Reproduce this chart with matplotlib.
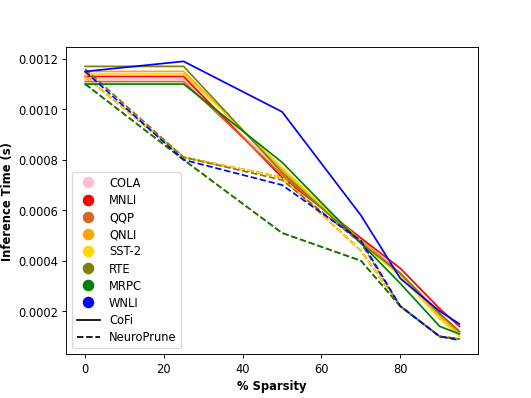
import matplotlib.pyplot as plt
from matplotlib.lines import Line2D

sparsity = [0, 25, 50, 70, 80, 90, 95]
datasets = ["COLA", "MNLI", "QQP", "QNLI", "SST-2", "RTE", "MRPC", "WNLI"]
colors = ["pink", "red", "chocolate", "orange", "gold", "olive", "green", "blue"]

cofi = {
    "COLA":  [0.00112, 0.00112, 0.00075, 0.00049, 0.00035, 0.00019, 0.00012],
    "MNLI":  [0.00113, 0.00113, 0.00073, 0.00049, 0.00037, 0.00021, 0.00014],
    "QQP":   [0.00111, 0.00111, 0.00074, 0.00048, 0.00035, 0.00019, 0.00012],
    "QNLI":  [0.00115, 0.00115, 0.00076, 0.00048, 0.00034, 0.00018, 0.00011],
    "SST-2": [0.00114, 0.00114, 0.00077, 0.00047, 0.00034, 0.00017, 0.00010],
    "RTE":   [0.00117, 0.00117, 0.00075, 0.00047, 0.00035, 0.00019, 0.00012],
    "MRPC":  [0.00110, 0.00110, 0.00079, 0.00047, 0.00031, 0.00014, 0.00011],
    "WNLI":  [0.00115, 0.00119, 0.00099, 0.00058, 0.00033, 0.00020, 0.00015],
}

neuroprune = {
    "COLA":  [0.00113, 0.00081, 0.00073, 0.00044, 0.00022, 0.00010, 0.00009],
    "MNLI":  [0.00113, 0.00081, 0.00073, 0.00044, 0.00022, 0.00010, 0.00009],
    "QQP":   [0.00110, 0.00080, 0.00051, 0.00040, 0.00022, 0.00010, 0.00009],
    "QNLI":  [0.00113, 0.00081, 0.00073, 0.00044, 0.00022, 0.00010, 0.00009],
    "SST-2": [0.00113, 0.00081, 0.00073, 0.00044, 0.00022, 0.00010, 0.00009],
    "RTE":   [0.00116, 0.00081, 0.00072, 0.00047, 0.00022, 0.00010, 0.00009],
    "MRPC":  [0.00110, 0.00080, 0.00051, 0.00040, 0.00022, 0.00010, 0.00009],
    "WNLI":  [0.00115, 0.00080, 0.00070, 0.00048, 0.00022, 0.00010, 0.000085],
}

fig, ax = plt.subplots(figsize=(6.4, 4.8), dpi=83)

for name, c in zip(datasets, colors):
    ax.plot(sparsity, cofi[name], "-", color=c)
    ax.plot(sparsity, neuroprune[name], "--", color=c)

# legend: coloured dots for datasets, black lines for method
handles = [Line2D([], [], marker="o", linestyle="none", color=c, markersize=9, label=n)
           for n, c in zip(datasets, colors)]
handles.append(Line2D([], [], color="black", linestyle="-", label="CoFi"))
handles.append(Line2D([], [], color="black", linestyle="--", label="NeuroPrune"))
ax.legend(handles=handles, loc="lower left", labelspacing=0.36)

ax.set_xlabel("% Sparsity", fontweight="bold")
ax.set_ylabel("Inference Time (s)", fontweight="bold")

fig.savefig("out.png")
